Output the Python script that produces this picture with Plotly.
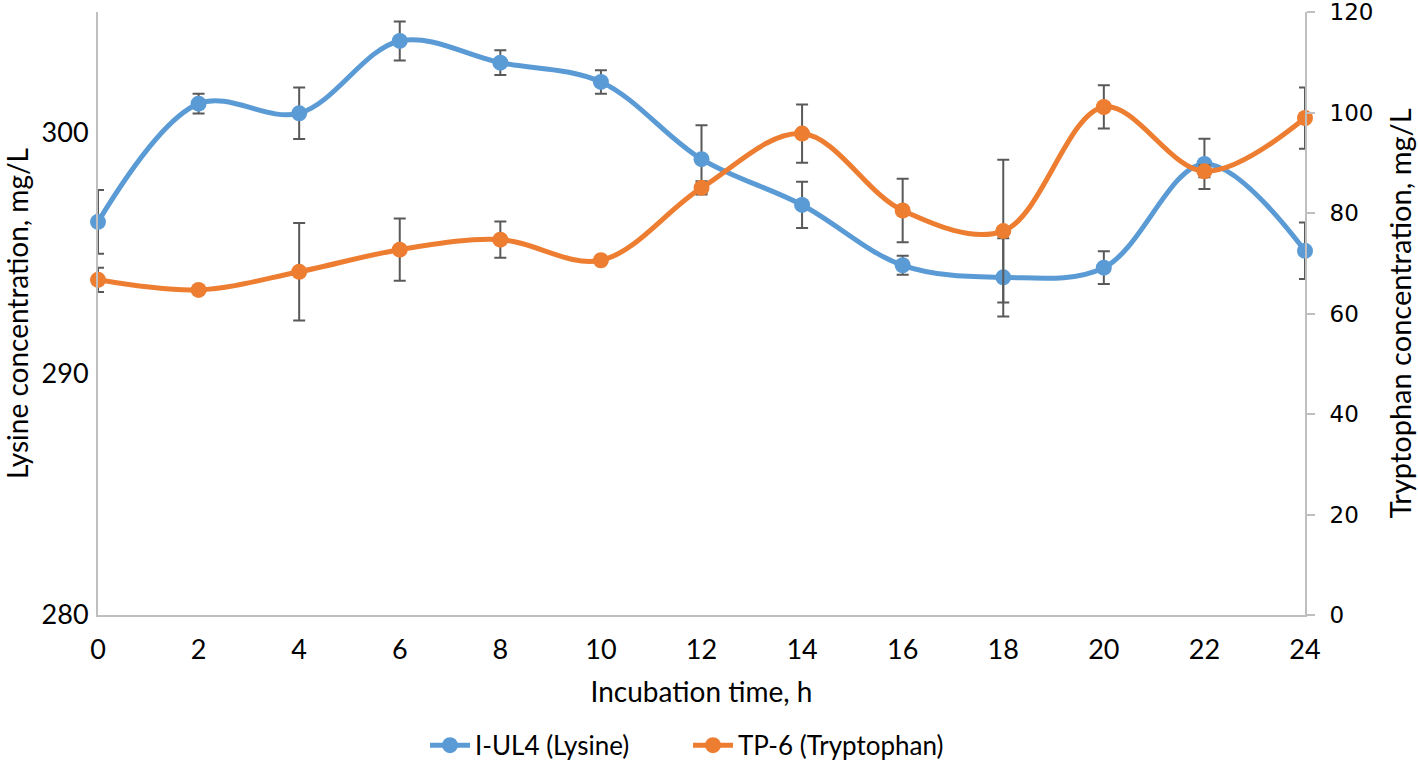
import plotly.graph_objects as go

hours = [0, 2, 4, 6, 8, 10, 12, 14, 16, 18, 20, 22, 24]
lysine = [296.3, 301.2, 300.8, 303.8, 302.9, 302.1, 298.9, 297.0, 294.5, 294.0, 294.4, 298.7, 295.1]
lysine_err = [1.32, 0.41, 1.07, 0.81, 0.51, 0.49, 1.40, 0.96, 0.39, 1.62, 0.68, 1.04, 1.17]
tryptophan = [66.7, 64.7, 68.3, 72.7, 74.7, 70.6, 85.0, 95.8, 80.5, 76.4, 101.1, 88.3, 98.9]
tryptophan_err = [2.4, 0.5, 9.7, 6.2, 3.6, 0.5, 1.3, 5.8, 6.3, 14.2, 4.3, 1.2, 6.1]

left_ticks = [280, 290, 300]
right_ticks = [0, 20, 40, 60, 80, 100, 120]

lysine_name = "I-UL4 (Lysine)"
trp_name = "TP-6 (Tryptophan)"
x_title = "Incubation time, h"
y_title = "Lysine concentration, mg/L"
y2_title = "Tryptophan concentration, mg/L"

BLUE = "#5B9BD5"
ORANGE = "#ED7D31"
ERR = "#595959"
AXIS = "#BFBFBF"
FONT = "Lato"

fig = go.Figure()
fig.add_trace(go.Scatter(
    x=hours, y=lysine, name=lysine_name, mode="lines+markers",
    line=dict(color=BLUE, width=5, shape="spline", smoothing=1),
    marker=dict(color=BLUE, size=16),
    error_y=dict(type="data", array=lysine_err, visible=True, color=ERR, thickness=2, width=6),
    yaxis="y", cliponaxis=False, legend="legend",
))
fig.add_trace(go.Scatter(
    x=hours, y=tryptophan, name=trp_name, mode="lines+markers",
    line=dict(color=ORANGE, width=5, shape="spline", smoothing=1),
    marker=dict(color=ORANGE, size=16),
    error_y=dict(type="data", array=tryptophan_err, visible=True, color=ERR, thickness=2, width=6),
    yaxis="y2", cliponaxis=False, legend="legend2",
))

leg_common = dict(orientation="h", yref="container", y=0.022, yanchor="middle",
                  xref="container", xanchor="left",
                  font=dict(family=FONT, size=26), itemwidth=40, bgcolor="rgba(0,0,0,0)")

fig.update_layout(
    width=1418, height=762, autosize=False,
    margin=dict(l=98, r=113, t=12, b=147),
    paper_bgcolor="white", plot_bgcolor="white",
    font=dict(family=FONT, size=27, color="black"),
    showlegend=True,
    legend=dict(leg_common, x=425 / 1418),
    legend2=dict(leg_common, x=688 / 1418),
    xaxis=dict(
        range=[0, 24], tickmode="array", tickvals=hours, ticktext=[str(h) for h in hours],
        showgrid=False, zeroline=False, showline=True, linecolor=AXIS, linewidth=2,
        ticks="", tickfont=dict(family=FONT, size=27), ticklabelstandoff=10,
        title=dict(text=x_title, font=dict(family=FONT, size=28), standoff=18),
        automargin=False, ticklabeloverflow="allow",
    ),
    yaxis=dict(
        range=[280, 305], tickmode="array", tickvals=left_ticks,
        showgrid=False, zeroline=False, showline=True, linecolor=AXIS, linewidth=2,
        ticks="", tickfont=dict(family=FONT, size=27), ticklabelstandoff=2,
        title=dict(text=y_title, font=dict(family=FONT, size=28), standoff=33),
        automargin=False, ticklabeloverflow="allow",
    ),
    yaxis2=dict(
        range=[0, 120], tickmode="array", tickvals=right_ticks, overlaying="y", side="right",
        showgrid=False, zeroline=False, showline=True, linecolor=AXIS, linewidth=2,
        ticks="outside", ticklen=8, tickcolor=AXIS, tickwidth=2,
        tickfont=dict(family="DejaVu Sans", size=23), ticklabelstandoff=10,
        title=dict(text=y2_title, font=dict(family=FONT, size=29), standoff=18),
        automargin=False, ticklabeloverflow="allow",
    ),
)

fig.write_html(
    "out.html",
    config={"responsive": False, "displayModeBar": False},
    post_script="document.body.style.margin='0';document.body.style.overflow='hidden';",
)
